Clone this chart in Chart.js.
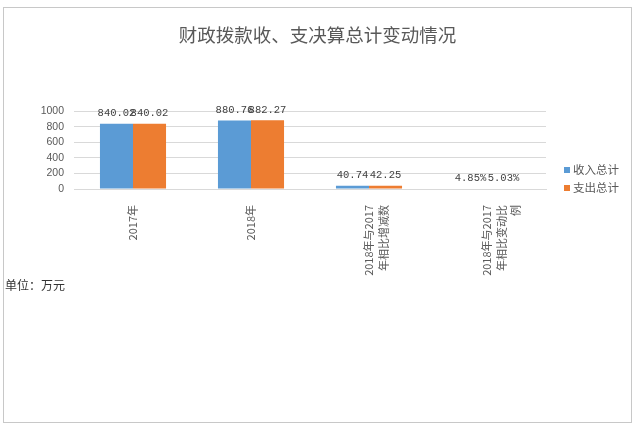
<!DOCTYPE html>
<html>
<head>
<meta charset="utf-8">
<script src="https://cdn.jsdelivr.net/npm/chart.js@4/dist/chart.umd.min.js"></script>
<style>
  body { margin: 0; background: #fff; }
  .frame {
    position: absolute; left: 3px; top: 7px; width: 629px; height: 416px;
    box-sizing: border-box; border: 1px solid #c8c8c8;
  }
  .unit {
    position: absolute; left: 5px; top: 276px;
    font: 12px "Noto Sans CJK SC", sans-serif; color: #333;
  }
</style>
</head>
<body>
<div class="frame">
  <canvas id="myChart" width="627" height="414"></canvas>
</div>
<div class="unit">单位：万元</div>
<script>
const categories = [
  '2017年',
  '2018年',
  ['2018年与2017', '年相比增减数'],
  ['2018年与2017', '年相比变动比', '例']
];
const incomeTotal = [840.02, 880.76, 40.74, 4.85];
const spendTotal = [840.02, 882.27, 42.25, 5.03];
const labelSuffix = ['', '', '', '%'];
const yTicks = [0, 200, 400, 600, 800, 1000];

const cjk = '"Noto Sans CJK SC", sans-serif';

// value labels above each bar
const valueLabels = {
  id: 'valueLabels',
  afterDatasetsDraw(chart) {
    const ctx = chart.ctx;
    ctx.save();
    ctx.font = '10.5px "Liberation Mono", monospace';
    ctx.fillStyle = '#404040';
    ctx.textAlign = 'center';
    ctx.textBaseline = 'bottom';
    chart.data.datasets.forEach((ds, i) => {
      chart.getDatasetMeta(i).data.forEach((bar, j) => {
        ctx.fillText(ds.data[j].toFixed(2) + labelSuffix[j], bar.x, bar.y - 5);
      });
    });
    ctx.restore();
  }
};

// legend to the right of the plot
const sideLegend = {
  id: 'sideLegend',
  afterDraw(chart) {
    const ctx = chart.ctx;
    const area = chart.chartArea;
    ctx.save();
    ctx.font = '11.5px ' + cjk;
    ctx.textBaseline = 'middle';
    chart.data.datasets.forEach((ds, i) => {
      const y = area.bottom - 19 + i * 18;
      const x = area.right + 18;
      ctx.fillStyle = ds.backgroundColor;
      ctx.fillRect(x, y - 3, 6, 6);
      ctx.fillStyle = '#595959';
      ctx.fillText(ds.label, x + 9, y);
    });
    ctx.restore();
  }
};

new Chart(document.getElementById('myChart'), {
  type: 'bar',
  data: {
    labels: categories,
    datasets: [
      { label: '收入总计', data: incomeTotal, backgroundColor: '#5b9bd5' },
      { label: '支出总计', data: spendTotal, backgroundColor: '#ed7d31' }
    ]
  },
  options: {
    responsive: false,
    animation: false,
    layout: { padding: 0 },
    datasets: { bar: { categoryPercentage: 0.56, barPercentage: 1 } },
    plugins: {
      legend: { display: false },
      tooltip: { enabled: false },
      title: {
        display: true,
        text: '财政拨款收、支决算总计变动情况',
        color: '#595959',
        font: { family: cjk, size: 18.5, weight: 'normal' },
        padding: { top: 16, bottom: 65 }
      }
    },
    scales: {
      x: {
        grid: { display: false },
        border: { color: '#d9d9d9' },
        ticks: {
          color: '#595959',
          font: { family: cjk, size: 11, lineHeight: 1.32 },
          minRotation: 90,
          maxRotation: 90,
          padding: 8,
          autoSkip: false
        },
        afterFit(scale) { scale.height = 233; }
      },
      y: {
        min: 0,
        max: 1000,
        afterBuildTicks(scale) { scale.ticks = yTicks.map(v => ({ value: v })); },
        grid: { color: '#d9d9d9', drawTicks: false },
        border: { display: false },
        ticks: {
          color: '#595959',
          font: { family: 'Arial, "Liberation Sans", sans-serif', size: 10.5 },
          padding: 10,
          autoSkip: false,
          callback: v => String(v)
        },
        afterFit(scale) { scale.width = 70; }
      },
      // empty right-hand strip that holds the legend
      side: {
        type: 'linear',
        position: 'right',
        grid: { display: false },
        border: { display: false },
        ticks: { display: false },
        afterFit(scale) { scale.width = 85; }
      }
    }
  },
  plugins: [valueLabels, sideLegend]
});
</script>
</body>
</html>
